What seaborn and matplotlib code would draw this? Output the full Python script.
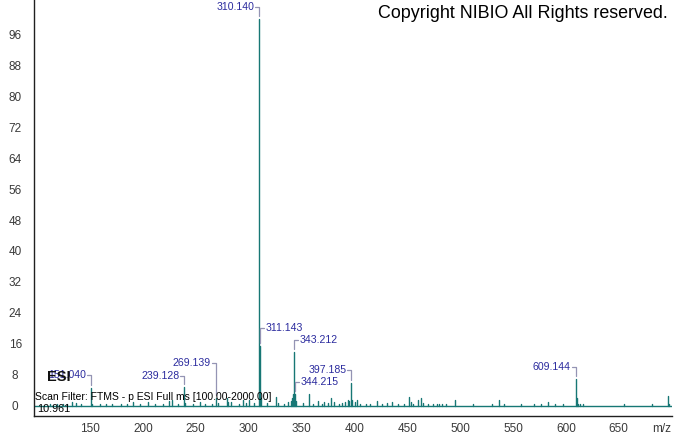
import numpy as np
import pandas as pd
import matplotlib
matplotlib.use("Agg")
import matplotlib.pyplot as plt
from matplotlib.ticker import MultipleLocator, FixedLocator
import seaborn as sns

# ---------------- data ----------------
peak_mz = [112.0, 119.1, 124.0, 128.1, 133.0, 137.1, 141.0, 151.040, 152.0, 159.1, 165.0,
           171.1, 179.0, 185.1, 191.1, 197.0, 205.1, 211.1, 219.0, 225.1, 227.5, 233.1,
           239.128, 240.1, 247.0, 254.1, 259.0, 265.1, 269.139, 271.1, 279.2, 280.2,
           283.1, 291.1, 295.1, 297.1, 300.1, 305.1, 310.140, 311.143, 312.15, 317.1,
           326.2, 328.1, 333.1, 337.2, 340.2, 341.2, 342.2, 343.212, 344.215, 345.2,
           351.1, 357.2, 361.1, 365.2, 369.1, 371.2, 375.1, 378.2, 381.2, 385.1, 388.2,
           391.1, 394.2, 395.2, 397.185, 398.19, 400.2, 402.2, 405.1, 411.2, 415.1,
           421.2, 426.1, 431.2, 435.2, 441.2, 447.2, 451.7, 453.2, 455.2, 460.2, 462.8,
           465.2, 469.2, 474.2, 478.2, 480.2, 483.2, 486.2, 495.6, 512.2, 530.2, 537.2,
           541.3, 557.2, 570.3, 576.3, 583.3, 590.2, 597.3, 609.144, 610.15, 611.15,
           613.2, 616.2, 655.3, 681.3, 696.3, 697.3]
peak_rel = [0.4, 0.5, 0.4, 0.6, 1.0, 0.8, 0.5, 4.7, 0.6, 0.5, 0.4,
            0.5, 0.4, 0.6, 1.0, 0.5, 1.0, 0.6, 0.5, 1.2, 1.5, 0.6,
            4.9, 0.8, 0.5, 1.0, 0.6, 0.5, 2.0, 0.8, 2.0, 1.0,
            1.0, 0.6, 1.5, 0.8, 1.5, 0.7, 100.0, 15.5, 2.0, 0.8,
            2.4, 0.8, 0.6, 0.9, 1.2, 2.0, 3.0, 14.0, 3.2, 1.2,
            0.7, 3.0, 0.6, 1.2, 0.6, 1.0, 0.7, 2.0, 1.0, 0.5, 0.8,
            0.9, 1.5, 1.2, 6.0, 1.5, 1.0, 1.5, 0.6, 0.5, 0.6,
            1.4, 0.5, 0.8, 0.9, 0.5, 0.4, 2.4, 1.0, 0.6, 1.5, 2.0,
            0.8, 0.5, 0.4, 0.5, 0.6, 0.5, 0.5, 1.5, 0.4, 0.4, 1.5,
            0.5, 0.4, 0.4, 0.5, 1.0, 0.5, 0.4, 7.0, 2.0, 0.6,
            0.4, 0.4, 0.4, 0.4, 2.6, 0.6]

label_mz = [151.040, 239.128, 269.139, 310.140, 311.143, 343.212, 344.215, 397.185, 609.144]
label_rel = [4.7, 4.9, 2.0, 100.0, 15.5, 14.0, 3.2, 6.0, 7.0]

y_ticks = [0, 8, 16, 24, 32, 40, 48, 56, 64, 72, 80, 88, 96]
x_ticks = [150, 200, 250, 300, 350, 400, 450, 500, 550, 600, 650, 700]
x_tick_labels = ["150", "200", "250", "300", "350", "400", "450", "500", "550",
                 "600", "650", "m/z"]

# ---------------- layout (positions, not data) ----------------
label_side = ["right", "right", "right", "right", "left", "left", "left", "right", "right"]
label_y = [8.0, 7.7, 11.1, 103.0, 20.1, 17.0, 6.3, 9.3, 10.1]

TEAL = "#177775"
LBLUE = "#2b2b9e"
BRACKET = "#9494b4"
TICKC = "#3a3a3a"

sns.set_theme(style="white")
plt.rcParams["font.family"] = ["Liberation Sans", "DejaVu Sans"]

W, H = 674, 434
fig = plt.figure(figsize=(W / 100, H / 100), dpi=100)
ax_l, ax_r, ax_b, ax_t = 34, 672, 416, 0
ax = fig.add_axes([ax_l / W, (H - ax_b) / H, (ax_r - ax_l) / W, (ax_b - ax_t) / H])

XMIN, XMAX = 97.0, 700.4
YMIN, YMAX = -2.6, 104.8
ax.set_xlim(XMIN, XMAX)
ax.set_ylim(YMIN, YMAX)

# sticks as long-form data through seaborn
rows = []
for i, (m, r) in enumerate(zip(peak_mz, peak_rel)):
    rows.append({"mz": m, "rel": 0.0, "peak": i})
    rows.append({"mz": m, "rel": r, "peak": i})
df = pd.DataFrame(rows)
sns.lineplot(data=df, x="mz", y="rel", units="peak", estimator=None, sort=False,
             color=TEAL, lw=1.0, ax=ax, legend=False)
ax.axhline(0, color=TEAL, lw=1.0, zorder=1)

# axes styling
for s in ["top", "right"]:
    ax.spines[s].set_visible(False)
for s in ["left", "bottom"]:
    ax.spines[s].set_color("#202020")
    ax.spines[s].set_linewidth(1.0)
ax.set_xlabel("")
ax.set_ylabel("")
ax.xaxis.set_major_locator(FixedLocator(x_ticks))
ax.set_xticklabels(x_tick_labels)
ax.xaxis.set_minor_locator(MultipleLocator(5))
ax.yaxis.set_major_locator(FixedLocator(y_ticks))
ax.set_yticklabels([str(v) for v in y_ticks])
ax.yaxis.set_minor_locator(MultipleLocator(1))
ax.tick_params(axis="both", which="major", direction="out", length=4.0, width=0.9,
               color="#202020", labelsize=8.5, labelcolor=TICKC)
ax.tick_params(axis="both", which="minor", direction="out", length=2.5, width=0.7,
               color="#202020")
ax.tick_params(axis="x", which="major", pad=0.8)
ax.tick_params(axis="y", which="major", pad=9.5)
for t in ax.get_yticklabels():
    t.set_ha("center")
ax.get_xticklabels()[-1].set_ha("right")

# pixel -> data scale
sx = (XMAX - XMIN) / (ax_r - ax_l)
sy = (YMAX - YMIN) / (ax_b - ax_t)

for m, r, side, ly in zip(label_mz, label_rel, label_side, label_y):
    txt = f"{m:.3f}"
    top = r + 3 * sy
    hx = 4 * sx
    if side == "right":
        ax.plot([m - hx, m, m], [ly, ly, top], color=BRACKET, lw=0.9, zorder=3)
        ax.text(m - hx - 1 * sx, ly, txt, ha="right", va="center", fontsize=7.6,
                color=LBLUE, zorder=4)
    else:
        ax.plot([m, m, m + hx], [top, ly, ly], color=BRACKET, lw=0.9, zorder=3)
        ax.text(m + hx + 1 * sx, ly, txt, ha="left", va="center", fontsize=7.6,
                color=LBLUE, zorder=4)

# header / info texts (figure pixel coordinates)
def fig_text(x, y, s, **kw):
    fig.text(x / W, 1 - y / H, s, **kw)

fig_text(668, 14, "Copyright NIBIO All Rights reserved.", ha="right", va="center",
         fontsize=12.9, color="black")
fig_text(47, 377, "ESI", ha="left", va="center", fontsize=10.5, fontweight="bold",
         color="#111111", zorder=3)
fig_text(35, 396.5, "Scan Filter: FTMS - p ESI Full ms [100.00-2000.00]", ha="left",
         va="center", fontsize=7.5, color="black")
fig_text(37, 409, "10.961", ha="left", va="center", fontsize=7.8, color="black")

fig.savefig("out.png", dpi=100)
